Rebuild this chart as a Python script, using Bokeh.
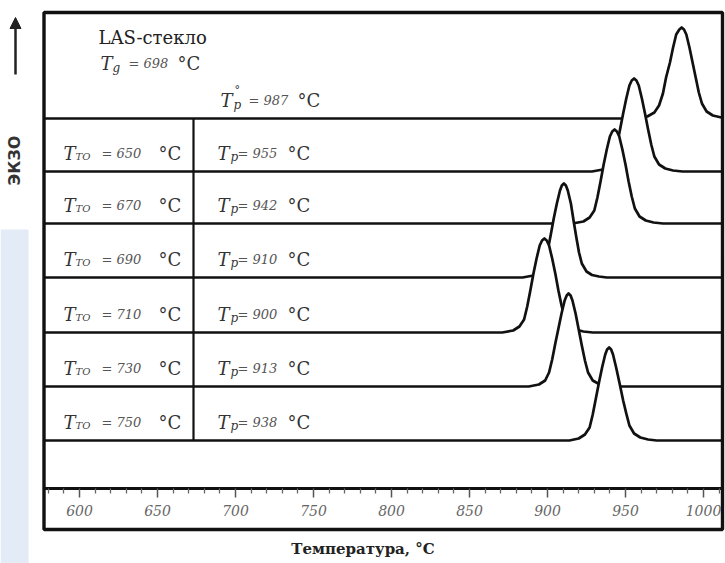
from bokeh.plotting import figure
from bokeh.models import Range1d, LinearAxis, FixedTicker, Arrow, NormalHead, Label
from bokeh.core.properties import value
from bokeh.embed import file_html
from bokeh.resources import INLINE

# ---------------- data ----------------
glass_label = "LAS-стекло"
glass_tg = 698
glass_tp = 987
tto_values = [650, 670, 690, 710, 730, 750]
tp_values = [955, 942, 910, 900, 913, 938]

x_title = "Температура, °C"
y_title = "ЭКЗО"

major_ticks = [600, 650, 700, 750, 800, 850, 900, 950, 1000]
minor_ticks = [580, 590, 610, 620, 630, 640, 660, 670, 680, 690, 710, 720, 730, 740,
               760, 770, 780, 790, 810, 820, 830, 840, 860, 870, 880, 890, 910, 920,
               930, 940, 960, 970, 980, 990, 1010]

# DTA traces: temperature (°C) and signal (arb. units)
t_glass = [577, 956, 964, 968.5, 971.5, 974, 976, 978.5, 980.5, 982.5, 984.5, 986,
           987.5, 989, 991, 993, 995, 997, 999, 1002, 1006, 1011.5]
s_glass = [0, 0, 2, 6, 13, 25, 41, 56, 71, 84, 89, 91,
           89, 84, 71, 56, 41, 26, 15, 7, 3, 1]

t_650 = [577, 928.5, 935.5, 939.5, 942.5, 944.5, 946.5, 948.5, 950.5, 952.5, 954, 955.5,
         957, 958.5, 960.5, 962.5, 964.5, 966.5, 968.5, 971.5, 975.5, 980.5, 986.5, 1011.5]
s_650 = [0, 0, 2, 6, 13, 26, 42, 58, 73, 86, 91, 93,
         91, 86, 73, 58, 42, 27, 15, 7, 3, 1, 0, 0]

t_670 = [577, 916, 923, 927, 930, 932, 934, 936, 938, 940, 941.5, 943,
         944.5, 946, 948, 950, 952, 954, 956, 959, 963, 968, 974, 1011.5]
s_670 = [0, 0, 2, 6, 13, 26, 42, 59, 74, 87, 92, 94,
         92, 87, 74, 59, 42, 27, 15, 7, 3, 1, 0, 0]

t_690 = [577, 884, 891, 895, 898, 900, 902, 904, 906, 908, 909.2, 910.5,
         911.8, 913, 915, 916.8, 918.5, 920.2, 922, 925, 928.5, 933, 938, 1011.5]
s_690 = [0, 0, 2, 6, 13, 26, 42, 59, 74, 87, 92, 94,
         92, 87, 74, 56, 40, 25, 14, 6, 2.5, 1, 0, 0]

t_710 = [577, 871, 878, 882, 885, 887, 889, 891, 893, 895, 896.5, 898,
         899.5, 901, 903, 905, 907, 909, 911, 914, 918, 923, 929, 1011.5]
s_710 = [0, 0, 2, 6, 13, 26, 42, 59, 74, 87, 92, 94,
         92, 87, 74, 59, 42, 27, 15, 7, 3, 1, 0, 0]

t_730 = [577, 888, 894.5, 898.5, 901, 903, 905, 907, 909, 911, 912.3, 913.5,
         914.8, 916, 918, 920, 922, 924, 926, 929, 933, 938, 944, 1011.5]
s_730 = [0, 0, 2, 6, 14, 27, 43, 58, 73, 86, 91, 93,
         91, 86, 73, 57, 41, 26, 14, 6, 2.5, 1, 0, 0]

t_750 = [577, 914, 920, 924, 927, 929, 931, 933, 935, 937, 938.2, 939.5,
         940.8, 942, 944, 946.5, 948.5, 950.5, 952.5, 955.5, 959.5, 964.5, 970, 1011.5]
s_750 = [0, 0, 2, 6, 13, 26, 42, 58, 73, 86, 91, 93,
         91, 86, 73, 55, 40, 27, 15, 7, 3, 1, 0, 0]

curves_t = [t_glass, t_650, t_670, t_690, t_710, t_730, t_750]
curves_s = [s_glass, s_650, s_670, s_690, s_710, s_730, s_750]

# ---------------- layout (pixels) ----------------
W, H = 725, 563
PX_PER_DEG = 1.56
X_AT_600 = 79.0
x_start = 600 - X_AT_600 / PX_PER_DEG
x_end = x_start + W / PX_PER_DEG

row_base = [118, 171, 223, 277, 332, 386, 440]   # baseline of each trace (px from top)
axis_y = 488
box_l, box_r, box_t, box_b = 43.5, 722, 12, 529
divider_x = 193

SERIF_NAME = "DejaVu Serif"
SERIF = value(SERIF_NAME)

p = figure(width=W, height=H, x_range=Range1d(x_start, x_end), y_range=Range1d(H, 0),
           min_border=0, toolbar_location=None, output_backend="svg",
           x_axis_type=None, y_axis_type=None)
p.extra_x_ranges = {"px": Range1d(0, W)}
p.outline_line_color = None
p.background_fill_color = "white"
p.border_fill_color = "white"

# light blue page strip at the left edge
p.quad(left=[0], right=[28], top=[229], bottom=[H], x_range_name="px",
       fill_color="#e2ebf6", line_color=None)

# traces, top to bottom, each masking what lies under it
for t, s, b in zip(curves_t, curves_s, row_base):
    ys = [b - v for v in s]
    p.varea(x=t, y1=[b] * len(t), y2=ys, fill_color="white")
    p.line(x=t, y=ys, line_color="#111111", line_width=2.7, line_join="round")

# table divider, axis line and outer frame
p.segment(x0=[divider_x], y0=[row_base[0]], x1=[divider_x], y1=[row_base[-1]],
          x_range_name="px", line_color="#111111", line_width=2.2)
p.segment(x0=[box_l], y0=[axis_y], x1=[box_r], y1=[axis_y],
          x_range_name="px", line_color="#111111", line_width=2.8)
p.quad(left=[box_l], right=[box_r], top=[box_t], bottom=[box_b], x_range_name="px",
       fill_color=None, line_color="#111111", line_width=3.4)

# temperature axis
xaxis = LinearAxis(fixed_location=axis_y,
                   ticker=FixedTicker(ticks=major_ticks, minor_ticks=minor_ticks),
                   axis_line_color=None,
                   major_tick_in=0, major_tick_out=9, major_tick_line_width=1.5,
                   major_tick_line_color="#555555",
                   minor_tick_in=0, minor_tick_out=5, minor_tick_line_width=1.3,
                   minor_tick_line_color="#666666",
                   major_label_text_font=SERIF_NAME,
                   major_label_text_font_style="italic",
                   major_label_text_font_size="14px",
                   major_label_text_color="#666666",
                   major_label_standoff=7,
                   axis_label=x_title,
                   axis_label_text_font=SERIF_NAME,
                   axis_label_text_font_style="bold",
                   axis_label_text_font_size="15px",
                   axis_label_text_color="#222222",
                   axis_label_standoff=21)
p.add_layout(xaxis, "below")

# exo label and arrow
p.add_layout(Label(x=14, y=160, x_range_name="px", text=y_title, angle=90, angle_units="deg",
                   text_align="center", text_baseline="middle",
                   text_font="DejaVu Sans", text_font_style="bold",
                   text_font_size="16px", text_color="#333333"))
p.add_layout(Arrow(end=NormalHead(size=11, fill_color="#222222", line_color="#222222"),
                   x_start=15, y_start=74, x_end=15, y_end=17, x_range_name="px",
                   line_color="#222222", line_width=2.5))


def txt(xs, ys, texts, size, style="italic", color="#333333"):
    p.text(x=xs, y=ys, text=texts, x_range_name="px", text_font=SERIF,
           text_font_size=value(size), text_font_style=value(style),
           text_color=color, text_align="left", text_baseline="alphabetic")


# glass block
txt([98], [37], [glass_label], "18px", "normal", "#222222")
txt([100, 220], [63, 100], ["T", "T"], "18px")
txt([112], [67], ["g"], "12px")
txt([234], [90], ["°"], "11px", "normal")
txt([233], [104], ["p"], "12px")
txt([128, 248], [63, 100], [f"= {glass_tg}", f"= {glass_tp}"], "13px", "italic", "#555555")
txt([177, 297], [63, 100], ["°C", "°C"], "18px", "normal")

# table rows
rb = [b - 18.5 for b in row_base[1:]]
n = len(tto_values)
txt([63] * n + [217] * n, rb + rb, ["T"] * (2 * n), "18px")
txt([75] * n, [b + 3 for b in rb], ["ТО"] * n, "10px", "italic", "#444444")
txt([230] * n, [b + 4 for b in rb], ["p"] * n, "12px")
txt([101] * n + [237] * n, rb + rb,
    [f"= {v}" for v in tto_values] + [f"= {v}" for v in tp_values],
    "13px", "italic", "#555555")
txt([158] * n + [287] * n, rb + rb, ["°C"] * (2 * n), "18px", "normal")

open("out.html", "w").write(file_html(p, INLINE))
